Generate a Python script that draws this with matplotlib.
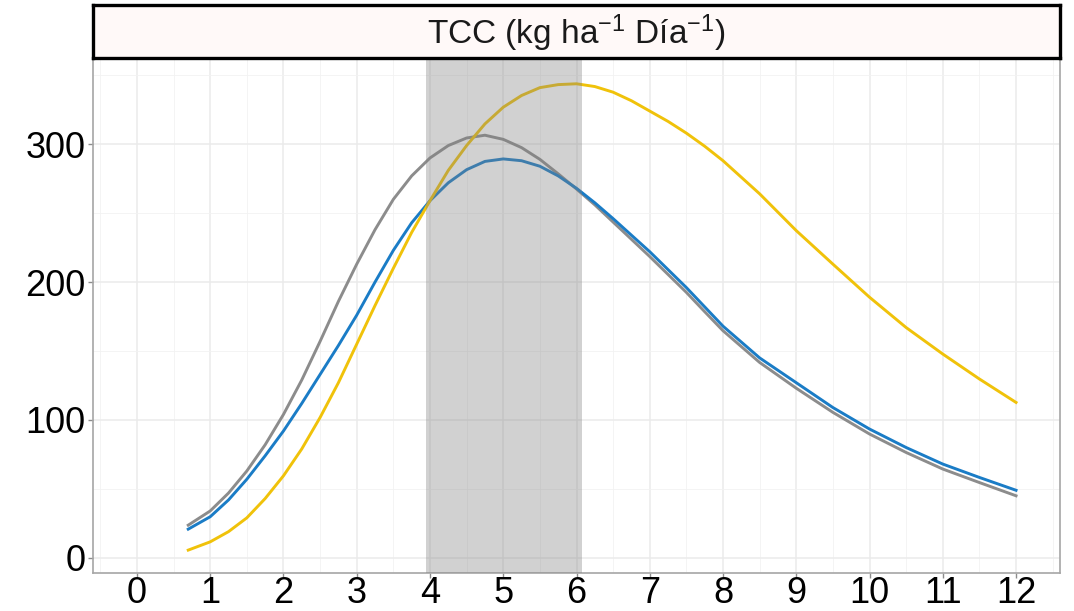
#!/usr/bin/env python3
"""
TCC curves by day with a shaded window, ggplot-like facet strip.
"""

import matplotlib
matplotlib.use('Agg')
import matplotlib.pyplot as plt
import matplotlib.patches as patches
from matplotlib.ticker import MultipleLocator

plt.rcParams['font.family'] = ['Liberation Sans', 'DejaVu Sans']
plt.rcParams['mathtext.fontset'] = 'custom'
plt.rcParams['mathtext.rm'] = 'Liberation Sans'
plt.rcParams['mathtext.it'] = 'Liberation Sans:italic'

# Data
days = [0.7, 1.0, 1.25, 1.5, 1.75, 2.0, 2.25, 2.5, 2.75, 3.0, 3.25, 3.5, 3.75,
        4.0, 4.25, 4.5, 4.75, 5.0, 5.25, 5.5, 5.75, 6.0, 6.25, 6.5, 6.75,
        7.0, 7.25, 7.5, 7.75, 8.0, 8.5, 9.0, 9.5, 10.0, 10.5, 11.0, 11.5, 12.0]
tcc_gray = [23.7, 34, 47, 63, 82, 104, 129, 157, 186, 213, 238, 260, 277,
            290, 299, 304.5, 306.5, 303.5, 297.5, 289, 278.5, 267.5, 256, 243.5, 231,
            218.5, 205.5, 192.5, 178.5, 164.7, 141.7, 123, 105.5, 89.8, 76.4, 64.4, 54.6, 45]
tcc_blue = [20.8, 29.8, 42, 57, 74, 92, 112, 133, 154, 176, 200, 223, 243,
            259, 272, 281.5, 287.5, 289.3, 288, 284, 277, 268, 257.5, 246, 234,
            222, 209, 196, 182, 168, 145, 127, 109, 93.4, 80, 68, 58.3, 49]
tcc_yellow = [5.6, 11.6, 19, 29, 43, 59.5, 79, 101.8, 127, 155, 183, 210, 236,
              259, 281, 299, 314.7, 326.8, 335.3, 341, 343.2, 343.8, 341.8, 337.7, 331.5,
              324, 316.5, 308, 298.5, 288, 264, 237.3, 213, 189, 167, 147.8, 129.7, 112.7]

window = (3.95, 6.08)
x_breaks = list(range(0, 13))
y_breaks = [0, 100, 200, 300]
strip_title = r'TCC (kg ha$^{-1}$ Día$^{-1}$)'


def main():
    fig = plt.figure(figsize=(10.74, 6.11), dpi=100)
    ax = fig.add_axes([93 / 1074, 38 / 611, 967 / 1074, 515 / 611])

    ax.set_xlim(-0.6, 12.6)
    ax.set_ylim(-11, 362.5)

    # grid like theme_bw
    ax.set_xticks(x_breaks)
    ax.set_yticks(y_breaks)
    ax.xaxis.set_minor_locator(MultipleLocator(0.5))
    ax.yaxis.set_minor_locator(MultipleLocator(50))
    ax.grid(True, which='major', color='#ebebeb', linewidth=1.1)
    ax.grid(True, which='minor', color='#f2f2f2', linewidth=0.6)
    ax.set_axisbelow(True)
    ax.tick_params(which='minor', length=0)
    ax.tick_params(which='major', length=3.5, width=1, color='#8c8c8c',
                   labelsize=26, labelcolor='black')
    ax.tick_params(axis='x', pad=-1.5)
    ax.tick_params(axis='y', pad=2)
    for side in ['left', 'right', 'bottom']:
        ax.spines[side].set_color('#a6a6a6')
        ax.spines[side].set_linewidth(1.2)
    ax.spines['top'].set_visible(False)

    ax.plot(days, tcc_gray, color='#8c8c8c', linewidth=2.1, zorder=3)
    ax.plot(days, tcc_blue, color='#1a7cc6', linewidth=2.1, zorder=3)
    ax.plot(days, tcc_yellow, color='#f0c20a', linewidth=2.1, zorder=3)

    # shaded window drawn over the lines
    rect = patches.Rectangle((window[0], -11), window[1] - window[0], 377,
                             facecolor='#808080', alpha=0.36, edgecolor='none',
                             zorder=4, clip_on=False)
    ax.add_patch(rect)

    # facet strip
    sax = fig.add_axes([93 / 1074, 553 / 611, 967 / 1074, 53 / 611], zorder=5)
    sax.set_xticks([])
    sax.set_yticks([])
    sax.set_facecolor('#fff9f8')
    for s in sax.spines.values():
        s.set_color('black')
        s.set_linewidth(2.4)
    sax.text(0.5, 0.47, strip_title, ha='center', va='center', fontsize=24,
             color='#1a1a1a', transform=sax.transAxes)

    fig.savefig('out.png', dpi=100)


if __name__ == '__main__':
    main()
